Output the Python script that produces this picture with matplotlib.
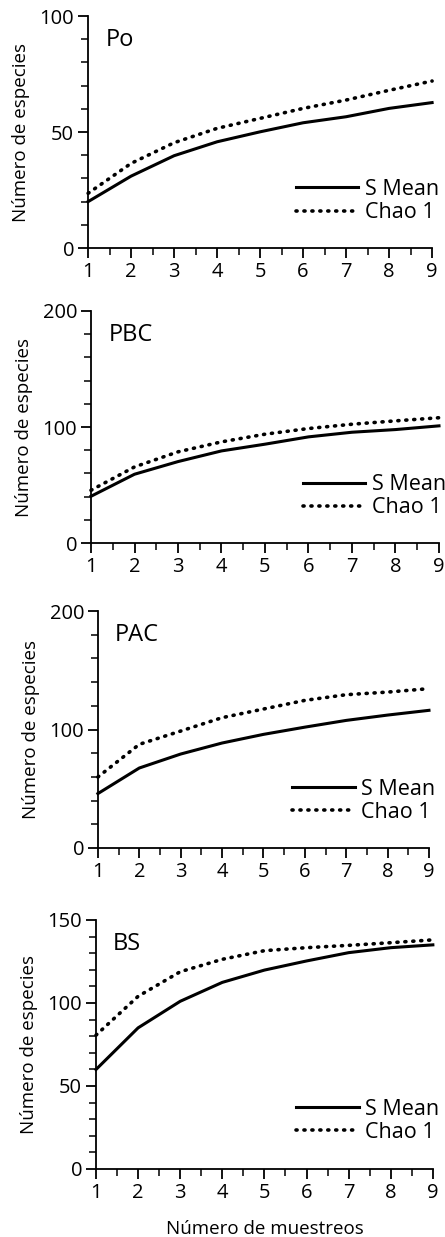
#!/usr/bin/env python

import numpy as np
import matplotlib
matplotlib.use("Agg")
import matplotlib.pyplot as plt
from matplotlib.ticker import MultipleLocator

plt.rcParams['font.family'] = ['Open Sans', 'DejaVu Sans']

# data (samples 1..9)
muestreos = [1, 2, 3, 4, 5, 6, 7, 8, 9]
sitios = ['Po', 'PBC', 'PAC', 'BS']

s_mean_po = [20, 31, 39.8, 45.8, 50.1, 54, 56.6, 60.2, 62.7]
chao1_po = [23.6, 36.5, 45.4, 51.6, 55.9, 60.2, 63.8, 68, 72]

s_mean_pbc = [40.3, 59.3, 70.2, 79.4, 85.2, 91.5, 95.5, 97.8, 101]
chao1_pbc = [45.5, 65.6, 78.6, 87.2, 93.8, 98.7, 102.4, 105.3, 108]

s_mean_pac = [45.9, 67.5, 79.3, 88.6, 95.9, 102, 107.7, 112.2, 116.2]
chao1_pac = [59.9, 87.5, 98.7, 110, 117.3, 124.6, 129.4, 131.6, 134.5]

s_mean_bs = [59.9, 85, 101, 112.4, 119.8, 125.3, 130.3, 133.3, 135]
chao1_bs = [80.6, 104, 118.8, 126.3, 131.5, 133.3, 134.7, 136.3, 138]

y_max = [100, 200, 200, 150]
y_major = [50, 100, 100, 50]
y_minor = [10, 20, 20, 10]

series = [(s_mean_po, chao1_po), (s_mean_pbc, chao1_pbc),
          (s_mean_pac, chao1_pac), (s_mean_bs, chao1_bs)]

# axes boxes in figure fraction (left, bottom, width, height)
boxes = [
    (0.198, 0.7995, 0.773, 0.1875),
    (0.2045, 0.561, 0.782, 0.1876),
    (0.220, 0.3145, 0.744, 0.1915),
    (0.2157, 0.055, 0.757, 0.2013),
]

fig = plt.figure(figsize=(4.45, 12.37), dpi=100)

for i, (name, (sm, ch)) in enumerate(zip(sitios, series)):
    ax = fig.add_axes(boxes[i])
    ax.plot(muestreos, sm, color='black', linewidth=2.2, label='S Mean',
            clip_on=False)
    ax.plot(muestreos, ch, color='black', linewidth=2.6, linestyle=(0, (0.3, 1.9)),
            dash_capstyle='round', label='Chao 1', clip_on=False)

    ax.set_xlim(1, 9)
    ax.set_ylim(0, y_max[i])
    ax.xaxis.set_major_locator(MultipleLocator(1))
    ax.xaxis.set_minor_locator(MultipleLocator(0.5))
    ax.yaxis.set_major_locator(MultipleLocator(y_major[i]))
    ax.yaxis.set_minor_locator(MultipleLocator(y_minor[i]))

    for side in ['top', 'right']:
        ax.spines[side].set_visible(False)
    for side in ['left', 'bottom']:
        ax.spines[side].set_linewidth(1.3)

    ax.tick_params(which='major', direction='out', length=7, width=1.3,
                   labelsize=14.5, pad=3)
    ax.tick_params(which='minor', direction='out', length=5, width=1.1)

    ax.set_ylabel('Número de especies', fontsize=13.5, labelpad=7)
    ax.text(0.05, 0.95, name, transform=ax.transAxes, fontsize=17,
            va='top', ha='left')

    ax.legend(loc='lower right', bbox_to_anchor=(1.045, 0.07), frameon=False,
              fontsize=15.5, handlelength=2.9, handletextpad=0.3,
              labelspacing=0.1, borderaxespad=0)

    if i == 3:
        ax.set_xlabel('Número de muestreos', fontsize=13.5, labelpad=12)

plt.savefig('out.png', dpi=100)
